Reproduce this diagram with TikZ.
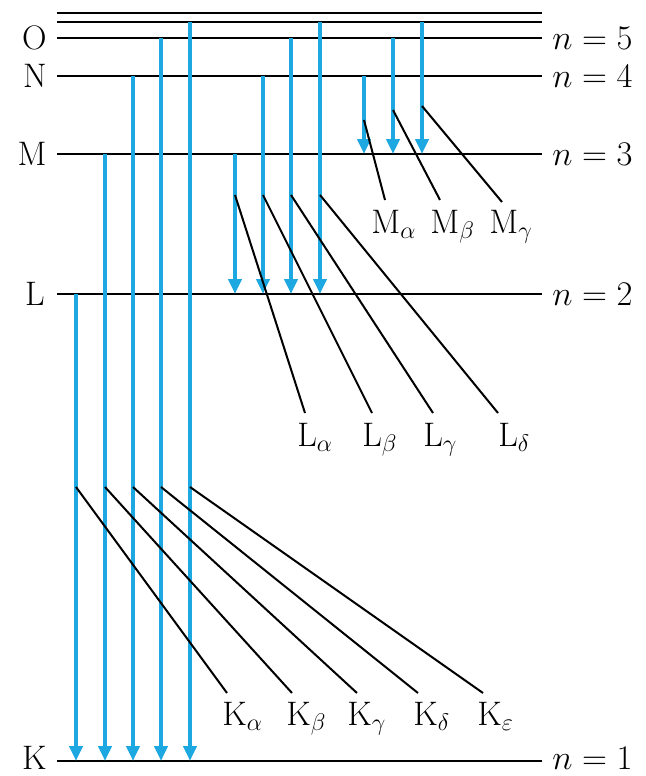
\documentclass[tikz,border=0pt]{standalone}
\usepackage{xcolor}
\usepackage{tikz}
\usepackage{amsmath}
\usetikzlibrary{arrows.meta}
\definecolor{xrayblue}{RGB}{30,168,225}

\begin{document}
\begin{tikzpicture}[x=0.5pt, y=-0.5pt,
    level/.style={line width=1.4pt},
    shelllabel/.style={font=\fontsize{17}{20}\selectfont, inner sep=0pt},
    nlabel/.style={shelllabel, anchor=west},
    linelabel/.style={shelllabel, anchor=north west},
    arrow/.style={-{Triangle[length=7.5pt, width=6.5pt]}, line width=2.2pt, draw=xrayblue},
    leader/.style={line width=1pt}
  ]
  \useasboundingbox (0,0) rectangle (646,776);

  % energy levels
  \coordinate (top) at (57,13);  \coordinate (top-e) at (542,13);
  \coordinate (sub) at (57,22);  \coordinate (sub-e) at (542,22);
  \coordinate (O) at (57,38);    \coordinate (O-e) at (542,38);
  \coordinate (N) at (57,76);    \coordinate (N-e) at (542,76);
  \coordinate (M) at (57,154);   \coordinate (M-e) at (542,154);
  \coordinate (L) at (57,294);   \coordinate (L-e) at (542,294);
  \coordinate (K) at (57,761);   \coordinate (K-e) at (542,761);

  \draw[level] (top) -- (top-e);
  \draw[level] (sub) -- (sub-e);
  \draw[level] (O) -- (O-e);
  \draw[level] (N) -- (N-e);
  \draw[level] (M) -- (M-e);
  \draw[level] (L) -- (L-e);
  \draw[level] (K) -- (K-e);

  \node[shelllabel, anchor=east, xshift=-5pt] (shellO) at (O) {O};
  \node[shelllabel, anchor=east, xshift=-5pt] (shellN) at (N) {N};
  \node[shelllabel, anchor=east, xshift=-5pt] (shellM) at (M) {M};
  \node[shelllabel, anchor=east, xshift=-6pt] (shellL) at (L) {L};
  \node[shelllabel, anchor=east, xshift=-5pt, yshift=1.5pt] (shellK) at (K) {K};

  \node[nlabel, xshift=5pt] (nO) at (O-e) {$n=5$};
  \node[nlabel, xshift=5pt] (nN) at (N-e) {$n=4$};
  \node[nlabel, xshift=5pt] (nM) at (M-e) {$n=3$};
  \node[nlabel, xshift=5pt] (nL) at (L-e) {$n=2$};
  \node[nlabel, xshift=5pt, yshift=1.5pt] (nK) at (K-e) {$n=1$};

  % K series
  \coordinate (Ka) at (76,0 |- L);
  \coordinate (Kb) at (105,0 |- M);
  \coordinate (Kg) at (133,0 |- N);
  \coordinate (Kd) at (161,0 |- O);
  \coordinate (Ke) at (190,0 |- sub);
  \draw[arrow] (Ka) -- (Ka |- K);
  \draw[arrow] (Kb) -- (Kb |- K);
  \draw[arrow] (Kg) -- (Kg |- K);
  \draw[arrow] (Kd) -- (Kd |- K);
  \draw[arrow] (Ke) -- (Ke |- K);

  % L series
  \coordinate (La) at (235,0 |- M);
  \coordinate (Lb) at (263,0 |- N);
  \coordinate (Lg) at (291,0 |- O);
  \coordinate (Ld) at (320,0 |- sub);
  \draw[arrow] (La) -- (La |- L);
  \draw[arrow] (Lb) -- (Lb |- L);
  \draw[arrow] (Lg) -- (Lg |- L);
  \draw[arrow] (Ld) -- (Ld |- L);

  % M series
  \coordinate (Ma) at (364,0 |- N);
  \coordinate (Mb) at (393,0 |- O);
  \coordinate (Mg) at (422,0 |- sub);
  \draw[arrow] (Ma) -- (Ma |- M);
  \draw[arrow] (Mb) -- (Mb |- M);
  \draw[arrow] (Mg) -- (Mg |- M);

  % line labels
  \node[linelabel] (Ma-lab) at (371,210) {M$_\alpha$};
  \node[linelabel] (Mb-lab) at (430,210) {M$_\beta$};
  \node[linelabel] (Mg-lab) at (489,210) {M$_\gamma$};

  \node[linelabel] (La-lab) at (297,423) {L$_\alpha$};
  \node[linelabel] (Lb-lab) at (362,423) {L$_\beta$};
  \node[linelabel] (Lg-lab) at (423,423) {L$_\gamma$};
  \node[linelabel] (Ld-lab) at (498,423) {L$_\delta$};

  \node[linelabel] (Ka-lab) at (222,702) {K$_\alpha$};
  \node[linelabel] (Kb-lab) at (286,702) {K$_\beta$};
  \node[linelabel] (Kg-lab) at (347,702) {K$_\gamma$};
  \node[linelabel] (Kd-lab) at (413,702) {K$_\delta$};
  \node[linelabel] (Ke-lab) at (477,702) {K$_\varepsilon$};

  % leaders
  \coordinate (Ma-tap) at (364,120);
  \coordinate (Mb-tap) at (393,110);
  \coordinate (Mg-tap) at (422,106);
  \draw[leader] (Ma-tap) -- ([shift={(14,-10)}]Ma-lab.north west);
  \draw[leader] (Mb-tap) -- ([shift={(10,-10)}]Mb-lab.north west);
  \draw[leader] (Mg-tap) -- ([shift={(13,-8)}]Mg-lab.north west);

  \coordinate (La-tap) at (235,195);
  \coordinate (Lb-tap) at (263,195);
  \coordinate (Lg-tap) at (291,195);
  \coordinate (Ld-tap) at (320,195);
  \draw[leader] (La-tap) -- ([shift={(8,-10)}]La-lab.north west);
  \draw[leader] (Lb-tap) -- ([shift={(10,-10)}]Lb-lab.north west);
  \draw[leader] (Lg-tap) -- ([shift={(10,-10)}]Lg-lab.north west);
  \draw[leader] (Ld-tap) -- ([shift={(0,-10)}]Ld-lab.north west);

  \coordinate (Ka-tap) at (76,487);
  \coordinate (Kb-tap) at (105,487);
  \coordinate (Kg-tap) at (133,487);
  \coordinate (Kd-tap) at (161,487);
  \coordinate (Ke-tap) at (190,487);
  \draw[leader] (Ka-tap) -- ([shift={(5,-9)}]Ka-lab.north west);
  \draw[leader] (Kb-tap) -- ([shift={(6,-9)}]Kb-lab.north west);
  \draw[leader] (Kg-tap) -- ([shift={(10,-9)}]Kg-lab.north west);
  \draw[leader] (Kd-tap) -- ([shift={(5,-9)}]Kd-lab.north west);
  \draw[leader] (Ke-tap) -- ([shift={(6,-9)}]Ke-lab.north west);
\end{tikzpicture}
\end{document}
